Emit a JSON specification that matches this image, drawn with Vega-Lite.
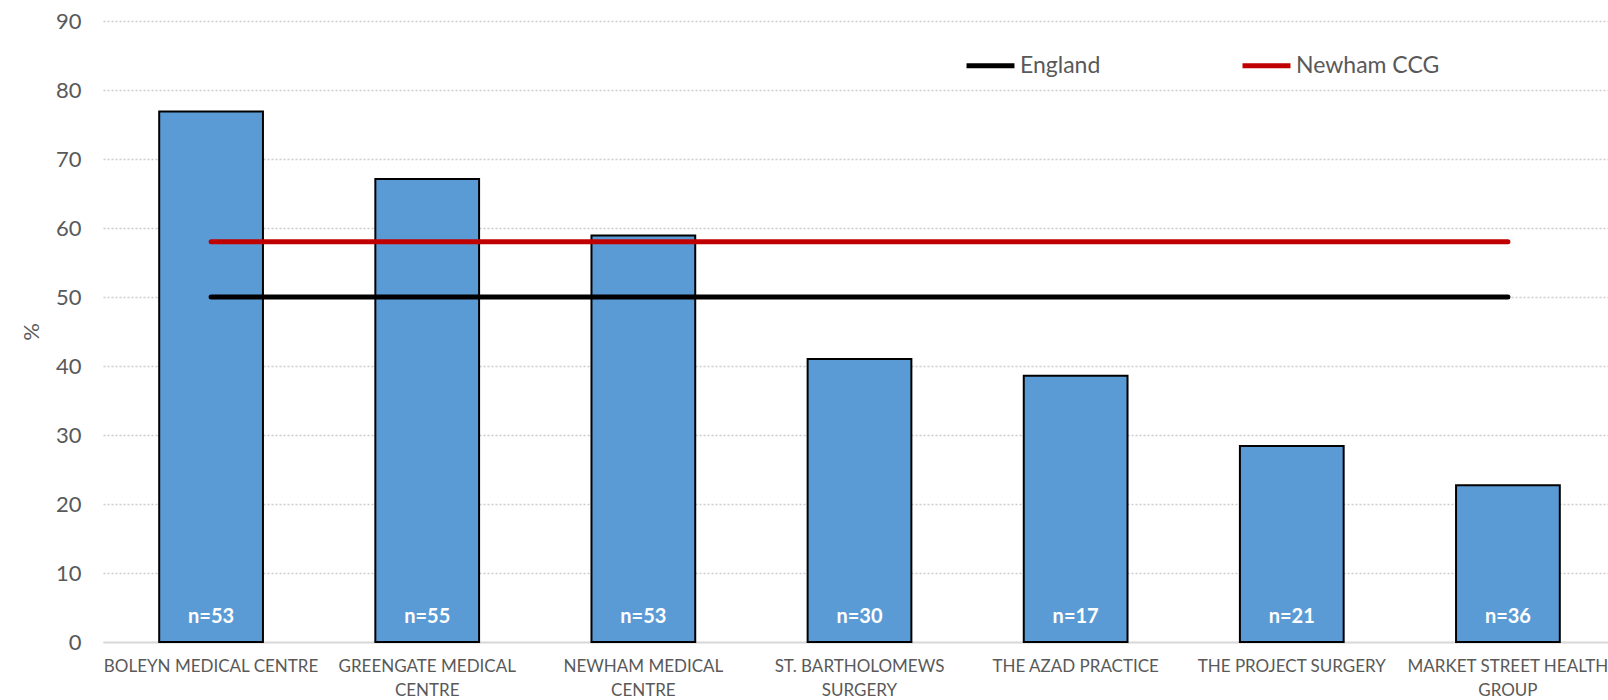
{
  "$schema": "https://vega.github.io/schema/vega-lite/v6.json",
  "autosize": {"type": "none"},
  "width": 1513,
  "height": 621,
  "padding": {"left": 103, "top": 21, "right": 0, "bottom": 58},
  "background": "white",
  "config": {
    "view": {"stroke": null},
    "font": "Lato"
  },
  "datasets": {
    "bars": [
      {"practice": "BOLEYN MEDICAL CENTRE", "pct": 76.9, "n": "n=53"},
      {"practice": "GREENGATE MEDICAL CENTRE", "pct": 67.1, "n": "n=55"},
      {"practice": "NEWHAM MEDICAL CENTRE", "pct": 58.9, "n": "n=53"},
      {"practice": "ST. BARTHOLOMEWS SURGERY", "pct": 41.0, "n": "n=30"},
      {"practice": "THE AZAD PRACTICE", "pct": 38.6, "n": "n=17"},
      {"practice": "THE PROJECT SURGERY", "pct": 28.4, "n": "n=21"},
      {"practice": "MARKET STREET HEALTH GROUP", "pct": 22.7, "n": "n=36"}
    ],
    "refs": [
      {"series": "England", "value": 50, "from": "BOLEYN MEDICAL CENTRE", "to": "MARKET STREET HEALTH GROUP"},
      {"series": "Newham CCG", "value": 58, "from": "BOLEYN MEDICAL CENTRE", "to": "MARKET STREET HEALTH GROUP"}
    ]
  },
  "layer": [
    {
      "data": {"name": "bars"},
      "mark": {"type": "bar", "fill": "#5b9bd5", "stroke": "#000000", "strokeWidth": 2},
      "encoding": {
        "x": {
          "field": "practice", "type": "nominal", "sort": null,
          "scale": {"paddingInner": 0.52, "paddingOuter": 0.26},
          "axis": {
            "title": null, "labelAngle": 0, "ticks": false,
            "domainColor": "#d9d9d9", "domainWidth": 2,
            "labelFontSize": 17, "labelColor": "#595959", "labelPadding": 24,
            "labelLimit": 0, "labelLineHeight": 24, "labelBaseline": "middle",
            "labelExpr": "indexof(['GREENGATE MEDICAL CENTRE','NEWHAM MEDICAL CENTRE','ST. BARTHOLOMEWS SURGERY','MARKET STREET HEALTH GROUP'], datum.value) >= 0 ? [substring(datum.value, 0, lastindexof(datum.value, ' ')), substring(datum.value, lastindexof(datum.value, ' ') + 1)] : datum.value"
          }
        },
        "y": {
          "field": "pct", "type": "quantitative",
          "scale": {"domain": [0, 90], "nice": false},
          "axis": {
            "title": "%", "titleFontSize": 22, "titleFontWeight": "normal", "titleColor": "#595959",
            "titlePadding": 12, "values": [0,10,20,30,40,50,60,70,80,90],
            "domain": false, "ticks": false, "labelPadding": 22,
            "labelFontSize": 22, "labelColor": "#595959",
            "gridColor": "#cccccc", "gridDash": [2, 2], "gridWidth": 1.3
          }
        }
      }
    },
    {
      "data": {"name": "bars"},
      "mark": {"type": "text", "color": "white", "fontWeight": "bold", "fontSize": 20, "dy": -25, "baseline": "middle"},
      "encoding": {
        "x": {"field": "practice", "type": "nominal", "sort": null},
        "y": {"datum": 0},
        "text": {"field": "n"}
      }
    },
    {
      "data": {"name": "refs"},
      "mark": {"type": "rule", "strokeWidth": 5, "strokeCap": "round"},
      "encoding": {
        "x": {"field": "from", "type": "nominal", "sort": null},
        "x2": {"field": "to"},
        "y": {"field": "value", "type": "quantitative"},
        "stroke": {
          "field": "series", "type": "nominal",
          "scale": {"domain": ["England", "Newham CCG"], "range": ["#000000", "#c00000"]},
          "legend": {
            "title": null, "orient": "none", "legendX": 861, "legendY": 18,
            "direction": "horizontal", "symbolType": "stroke", "symbolSize": 2300,
            "symbolStrokeWidth": 5, "labelFontSize": 23, "labelColor": "#595959",
            "labelOffset": 3, "columnPadding": 131
          }
        }
      }
    }
  ]
}
